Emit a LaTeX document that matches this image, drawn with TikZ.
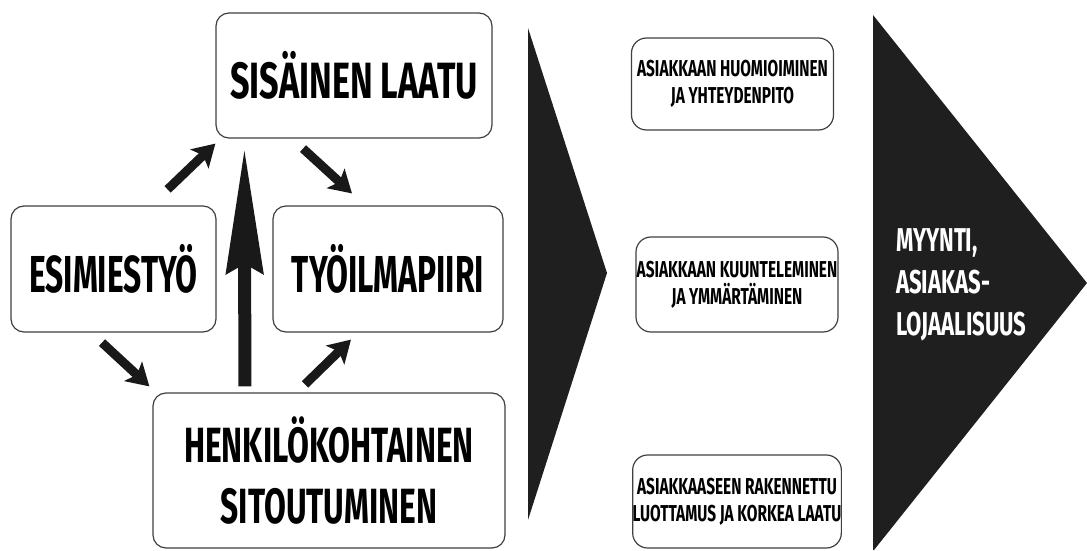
\documentclass[tikz,border=0pt]{standalone}
\usepackage{fontspec}
\setmainfont{Fira Sans}[FakeStretch=0.61]
\newfontfamily\midnarrow{Fira Sans}[FakeStretch=0.64]
\newfontfamily\widenarrow{Fira Sans}[FakeStretch=0.67]
\usetikzlibrary{arrows.meta,positioning}

\begin{document}
\begin{tikzpicture}[x=1pt,y=1pt,
    box/.style={draw=black!75,line width=1.2pt,rounded corners=13pt,
                fill=white,inner sep=0pt,align=center},
    bigbox/.style={box,font={\fontsize{52}{60}\selectfont\bfseries}},
    sisbox/.style={box,font={\widenarrow\fontsize{51}{60}\selectfont\bfseries}},
    twobox/.style={box,font={\midnarrow\fontsize{49.5}{60.5}\selectfont\bfseries}},
    smallbox/.style={box,rounded corners=15pt,
                     font={\widenarrow\fontsize{23}{27}\selectfont\bfseries}},
    chevron/.style={fill=black!88,draw=none},
    thinarrow/.style={line width=9pt,black!90,
                      -{Stealth[length=22pt,width=26pt,inset=5pt]}},
    bigarrow/.style={line width=13pt,black!90,
                     -{Stealth[length=125pt,width=36pt,inset=9pt]}}]

  \useasboundingbox (0,0) rectangle (1087,550);

  % left part: the cycle
  \node[sisbox,minimum width=276pt,minimum height=125pt] (sis)  at (354,474.5) {SISÄINEN LAATU};
  \node[bigbox,minimum width=205pt,minimum height=126pt] (esim) at (113.5,281) {ESIMIESTYÖ};
  \node[bigbox,minimum width=230pt,minimum height=126pt] (tyo)  at (388,281)   {TYÖILMAPIIRI};
  \node[twobox,minimum width=352pt,minimum height=155pt] (henk) at (329,79.5)  {HENKILÖKOHTAINEN\\SITOUTUMINEN};

  \draw[thinarrow] ([shift={(-49,16)}]esim.north east) -- ([shift={(0,-5)}]sis.south west);
  \draw[thinarrow] ([shift={(-51,-10)}]sis.south)       -- ([shift={(-36,12)}]tyo.north);
  \draw[thinarrow] ([shift={(-11.5,-10)}]esim.south)    -- ([shift={(-3,6)}]henk.north west);
  \draw[thinarrow] ([shift={(-24,8)}]henk.north)        -- ([shift={(-37,-7)}]tyo.south);
  \draw[bigarrow]  ([shift={(92.5,6)}]henk.north west)  -- ([shift={(29,-9)}]sis.south west);

  % middle chevron
  \fill[chevron] (528,522) -- (607,277) -- (528,30) -- cycle;

  % customer boxes
  \node[smallbox,minimum width=202pt,minimum height=92pt] (asi1) at (732.5,466) {ASIAKKAAN HUOMIOIMINEN\\JA YHTEYDENPITO};
  \node[smallbox,minimum width=202pt,minimum height=95pt] (asi2) at (737,265.5) {ASIAKKAAN KUUNTELEMINEN\\JA YMMÄRTÄMINEN};
  \node[smallbox,minimum width=202pt,minimum height=93pt] (asi3) at (737,48.5)  {ASIAKKAASEEN RAKENNETTU\\LUOTTAMUS JA KORKEA LAATU};

  % result arrow
  \fill[chevron] (873,535) -- (1087,267) -- (874,0) -- (873,0) -- cycle;
  \node[white,anchor=west,align=left,inner sep=0pt,
        font={\widenarrow\fontsize{33}{42}\selectfont\bfseries}] (myynti) at (896,265)
        {MYYNTI,\\ASIAKAS-\\LOJAALISUUS};
\end{tikzpicture}
\end{document}
